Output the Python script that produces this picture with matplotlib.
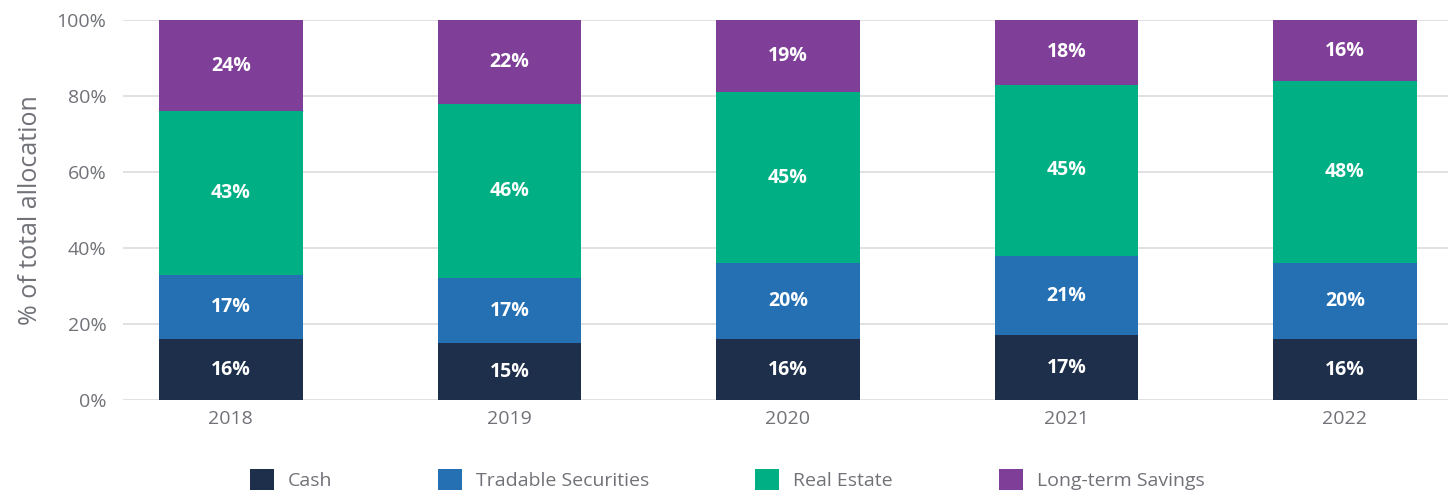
import matplotlib
matplotlib.use("Agg")
import matplotlib.pyplot as plt
from matplotlib.patches import Patch
import numpy as np

years = ["2018", "2019", "2020", "2021", "2022"]
cash = [16, 15, 16, 17, 16]
tradable = [17, 17, 20, 21, 20]
real_estate = [43, 46, 45, 45, 48]
long_term = [24, 22, 19, 18, 16]

series_names = ["Cash", "Tradable Securities", "Real Estate", "Long-term Savings"]
colors = ["#1d2f4a", "#2470b3", "#00b084", "#7f3f98"]

plt.rcParams['font.family'] = ['Open Sans', 'DejaVu Sans']
gray = '#707278'

fig = plt.figure(figsize=(14.48, 4.92), dpi=100)
ax = fig.add_axes([0.085, 0.187, 0.915, 0.772])

x = np.arange(len(years))
width = 0.516
bottom = np.zeros(len(years))
for vals, col in zip([cash, tradable, real_estate, long_term], colors):
    v = np.array(vals, dtype=float)
    ax.bar(x, v, width, bottom=bottom, color=col, zorder=3)
    for xi, b, h in zip(x, bottom, v):
        ax.text(xi, min(b + h / 2, b + (100 - b) / 2), f"{int(h)}%", ha='center', va='center',
                color='white', fontsize=14, fontweight='bold', zorder=4)
    bottom += v

ax.set_ylim(0, 100)
ax.set_xlim(-0.387, 4.37)
ax.set_yticks([0, 20, 40, 60, 80, 100])
ax.set_yticklabels([f"{t}%" for t in [0, 20, 40, 60, 80, 100]])
ax.set_xticks(x)
ax.set_xticklabels(years)
ax.yaxis.grid(True, color='#dcdcdf', linewidth=1.2, zorder=0)
ax.set_axisbelow(True)
for s in ax.spines.values():
    s.set_visible(False)
ax.tick_params(axis='both', length=0, labelsize=14, labelcolor=gray)
ax.tick_params(axis='y', pad=12)
ax.tick_params(axis='x', pad=7)
ax.set_ylabel("% of total allocation", fontsize=18, color=gray, labelpad=10)

handles = [Patch(facecolor=c, edgecolor='none') for c in colors]
leg = fig.legend(handles, series_names, loc='center', bbox_to_anchor=(0.502, 0.025), ncol=4,
                 frameon=False, fontsize=14, handlelength=1.25, handleheight=1.25,
                 handletextpad=0.7, columnspacing=5.45)
for t in leg.get_texts():
    t.set_color(gray)

fig.savefig("out.png", dpi=100)
